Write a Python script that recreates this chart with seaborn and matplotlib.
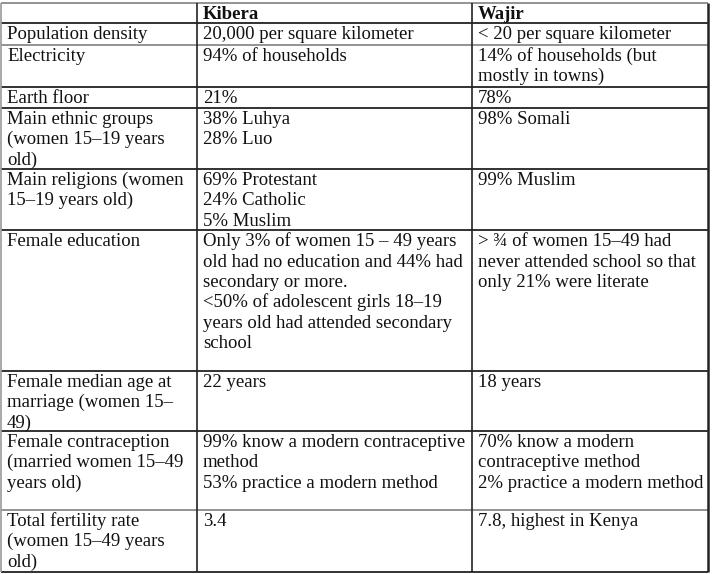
import matplotlib
matplotlib.use("Agg")
import matplotlib.pyplot as plt
import seaborn as sns


# Tablo verileri
headers = ["", "Kibera", "Wajir"]

row_labels = [
    "Population density",
    "Electricity",
    "Earth floor",
    "Main ethnic groups\n(women 15–19 years\nold)",
    "Main religions (women\n15–19 years old)",
    "Female education",
    "Female median age at\nmarriage (women 15–\n49)",
    "Female contraception\n(married women 15–49\nyears old)",
    "Total fertility rate\n(women 15–49 years\nold)",
]

kibera = [
    "20,000 per square kilometer",
    "94% of households",
    "21%",
    "38% Luhya\n28% Luo",
    "69% Protestant\n24% Catholic\n5% Muslim",
    "Only 3% of women 15 – 49 years\nold had no education and 44% had\nsecondary or more.\n"
    "<50% of adolescent girls 18–19\nyears old had attended secondary\nschool",
    "22 years",
    "99% know a modern contraceptive\nmethod\n53% practice a modern method",
    "3.4",
]

wajir = [
    "< 20 per square kilometer",
    "14% of households (but\nmostly in towns)",
    "78%",
    "98% Somali",
    "99% Muslim",
    "> ¾ of women 15–49 had\nnever attended school so that\nonly 21% were literate",
    "18 years",
    "70% know a modern\ncontraceptive method\n2% practice a modern method",
    "7.8, highest in Kenya",
]

# Yerlesim (piksel)
col_edges = [1, 197, 472, 708]
row_edges = [2.5, 22.5, 44.5, 86.5, 107.5, 168.5, 230, 370.5, 430.5, 509.5, 572]
line_h = 20.3
base_off = 16.5
pad = 6


sns.set_theme(style="white")
plt.rcParams["font.family"] = ["Liberation Serif", "DejaVu Serif"]

fig = plt.figure(figsize=(7.12, 5.74), dpi=100)
ax = fig.add_axes([0, 0, 1, 1])
ax.set_xlim(0, 712)
ax.set_ylim(574, 0)
ax.axis("off")


def yaz(col, row, text, bold=False):
    top = row_edges[row]
    for i, line in enumerate(text.split("\n")):
        ax.text(col_edges[col] + pad, top + base_off + i * line_h, line,
                fontsize=13.5, va="baseline", ha="left", color="#111111",
                fontweight="bold" if bold else "normal")


for c, h in enumerate(headers):
    yaz(c, 0, h, bold=True)

for r in range(len(row_labels)):
    yaz(0, r + 1, row_labels[r])
    yaz(1, r + 1, kibera[r])
    yaz(2, r + 1, wajir[r])

# Cizgiler
gri = {0, 2, 9}
for i, y in enumerate(row_edges):
    ax.hlines(y, col_edges[0], col_edges[-1],
              color="#8a8a8a" if i in gri else "#222222", lw=1.3)
for i, x in enumerate(col_edges):
    ax.vlines(x, row_edges[0], row_edges[-1],
              color="#999999" if i == 0 else "#222222",
              lw=1.8 if i == 3 else 1.2)

fig.savefig("out.png", dpi=100)
